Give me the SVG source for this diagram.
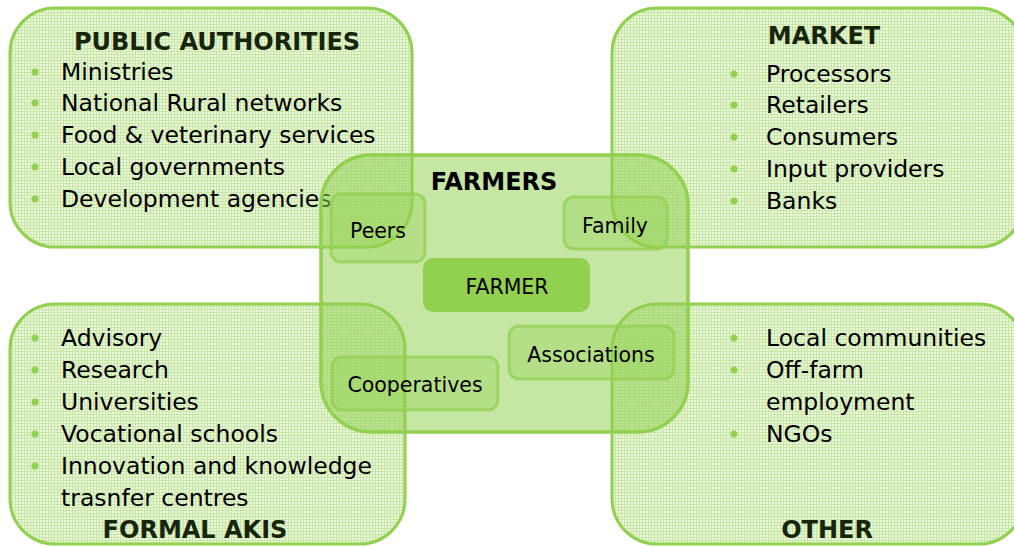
<svg xmlns="http://www.w3.org/2000/svg" width="1014" height="546" viewBox="0 0 1014 546">
<defs>
<pattern id="grid" width="3" height="3" patternUnits="userSpaceOnUse">
<rect width="3" height="3" fill="#eaf6de"/>
<path d="M0 0.5H3M0.5 0V3" stroke="#c8e6a4" stroke-width="1"/>
</pattern>
<style>
.outer{fill:url(#grid);stroke:#92d050;stroke-width:3}
.farm{fill:#92d050;fill-opacity:0.52;stroke:#92d050;stroke-width:3.5}
.inner{fill:#92d050;fill-opacity:0.35;stroke:#92d050;stroke-opacity:0.75;stroke-width:3}
.core{fill:#92d050;stroke:none}
.t{font-family:"DejaVu Sans","Verdana",sans-serif;font-size:23.5px;fill:#000}
.h{font-family:"DejaVu Sans","Verdana",sans-serif;font-size:24px;font-weight:bold;fill:#17260b}
.s{font-family:"DejaVu Sans","Verdana",sans-serif;font-size:20.5px;fill:#000}
.b{fill:#92d050}
</style>
</defs>
<rect width="1014" height="546" fill="#fff"/>

<g id="public-authorities">
<rect class="outer" x="10" y="8" width="402" height="239" rx="45"/>
<text class="h" x="217" y="50" text-anchor="middle">PUBLIC AUTHORITIES</text>
<circle class="b" cx="35" cy="72" r="3.5"/><text class="t" x="61" y="80">Ministries</text>
<circle class="b" cx="35" cy="103" r="3.5"/><text class="t" x="61" y="111">National Rural networks</text>
<circle class="b" cx="35" cy="135" r="3.5"/><text class="t" x="61" y="143">Food &amp; veterinary services</text>
<circle class="b" cx="35" cy="167" r="3.5"/><text class="t" x="61" y="175">Local governments</text>
<circle class="b" cx="35" cy="199" r="3.5"/><text class="t" x="61" y="207">Development agencies</text>
</g>

<g id="market">
<rect class="outer" x="612" y="8" width="412" height="239" rx="45"/>
<text class="h" x="824" y="44" text-anchor="middle">MARKET</text>
<circle class="b" cx="734" cy="74" r="3.5"/><text class="t" x="766" y="82">Processors</text>
<circle class="b" cx="734" cy="105" r="3.5"/><text class="t" x="766" y="113">Retailers</text>
<circle class="b" cx="734" cy="137" r="3.5"/><text class="t" x="766" y="145">Consumers</text>
<circle class="b" cx="734" cy="169" r="3.5"/><text class="t" x="766" y="177">Input providers</text>
<circle class="b" cx="734" cy="201" r="3.5"/><text class="t" x="766" y="209">Banks</text>
</g>

<g id="formal-akis">
<rect class="outer" x="10" y="304" width="395" height="240" rx="45"/>
<circle class="b" cx="35" cy="338" r="3.5"/><text class="t" x="61" y="346">Advisory</text>
<circle class="b" cx="35" cy="370" r="3.5"/><text class="t" x="61" y="378">Research</text>
<circle class="b" cx="35" cy="402" r="3.5"/><text class="t" x="61" y="410">Universities</text>
<circle class="b" cx="35" cy="434" r="3.5"/><text class="t" x="61" y="442">Vocational schools</text>
<circle class="b" cx="35" cy="466" r="3.5"/><text class="t" x="61" y="474">Innovation and knowledge</text>
<text class="t" x="61" y="506">trasnfer centres</text>
<text class="h" x="195" y="538" text-anchor="middle">FORMAL AKIS</text>
</g>

<g id="other">
<rect class="outer" x="612" y="304" width="412" height="240" rx="45"/>
<circle class="b" cx="734" cy="338" r="3.5"/><text class="t" x="766" y="346">Local communities</text>
<circle class="b" cx="734" cy="370" r="3.5"/><text class="t" x="766" y="378">Off-farm</text>
<text class="t" x="766" y="410">employment</text>
<circle class="b" cx="734" cy="434" r="3.5"/><text class="t" x="766" y="442">NGOs</text>
<text class="h" x="827" y="538" text-anchor="middle">OTHER</text>
</g>

<g id="farmers">
<rect class="farm" x="321" y="155" width="367" height="277" rx="50"/>
<text class="h" x="494" y="190" text-anchor="middle" style="fill:#000">FARMERS</text>
</g>

<g id="peers">
<rect class="inner" x="331" y="194" width="94" height="68" rx="10"/>
<text class="s" x="378" y="238" text-anchor="middle">Peers</text>
</g>
<g id="family">
<rect class="inner" x="564" y="197" width="103" height="52" rx="10"/>
<text class="s" x="615" y="233" text-anchor="middle">Family</text>
</g>
<g id="farmer">
<rect class="core" x="423" y="258" width="167" height="54" rx="10"/>
<text class="s" x="507" y="294" text-anchor="middle">FARMER</text>
</g>
<g id="associations">
<rect class="inner" x="509" y="326" width="165" height="53" rx="10"/>
<text class="s" x="591" y="362" text-anchor="middle">Associations</text>
</g>
<g id="cooperatives">
<rect class="inner" x="332" y="357" width="166" height="53" rx="10"/>
<text class="s" x="415" y="392" text-anchor="middle">Cooperatives</text>
</g>
</svg>
